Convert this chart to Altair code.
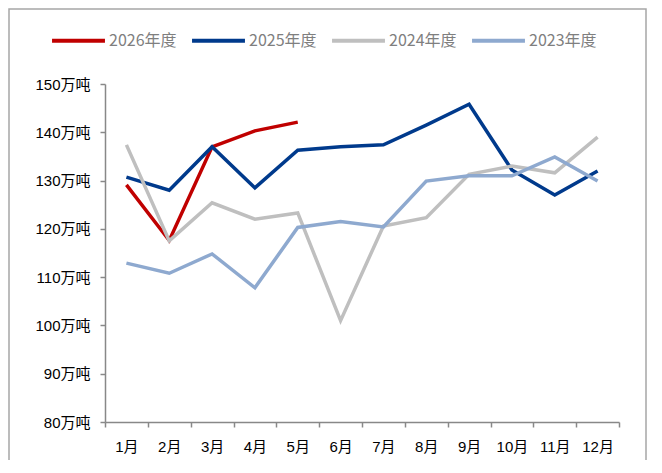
import pandas as pd
import altair as alt

months = ["1月", "2月", "3月", "4月", "5月", "6月", "7月", "8月", "9月", "10月", "11月", "12月"]
series = ["2026年度", "2025年度", "2024年度", "2023年度"]
colors = ["#C00000", "#003A8C", "#BFBFBF", "#8EA9CF"]

y2026 = [129.1, 117.6, 137.0, 140.3, 142.1]
y2025 = [130.7, 128.0, 137.0, 128.5, 136.3, 137.0, 137.4, 141.5, 145.8, 132.2, 127.0, 132.0]
y2024 = [137.4, 117.5, 125.4, 122.0, 123.3, 101.0, 120.6, 122.3, 131.3, 133.0, 131.6, 139.0]
y2023 = [112.9, 110.8, 114.8, 107.8, 120.3, 121.5, 120.4, 129.9, 131.0, 131.0, 134.9, 129.9]

rows = []
for name, vals in zip(series, [y2026, y2025, y2024, y2023]):
    for i, v in enumerate(vals):
        rows.append({"series": name, "month": months[i], "idx": i + 1, "value": v})
df = pd.DataFrame(rows)
df["order"] = df["series"].map({s: k for k, s in enumerate(series)})

FONT = "Liberation Sans, Noto Sans CJK SC"
LEG_FONT = "Noto Sans CJK SC"
W, H = 514, 338
band = W / 12

# frame around the whole figure
frame = alt.Chart(pd.DataFrame({"k": [0]})).mark_rect(
    filled=False, stroke="#a6a6a6", strokeWidth=1.5
).encode(
    x=alt.value(-96), x2=alt.value(541), y=alt.value(-75), y2=alt.value(420)
)

lines = alt.Chart(df).mark_line(strokeWidth=3.5).encode(
    x=alt.X(
        "idx:Q",
        scale=alt.Scale(domain=[0.5, 12.5], nice=False, zero=False),
        axis=alt.Axis(
            values=[i + 0.5 for i in range(13)],
            labelExpr="datum.value < 12 ? (datum.value + 0.5) + '月' : ''",
            labelOffset=band / 2,
            labelFlush=False,
            labelOverlap=False,
            labelPadding=12,
            labelFontSize=15,
            labelFont=FONT,
            labelColor="black",
            tickSize=5,
            grid=False,
            title=None,
        ),
    ),
    y=alt.Y(
        "value:Q",
        scale=alt.Scale(domain=[80, 150], nice=False, zero=False),
        axis=alt.Axis(
            values=list(range(80, 151, 10)),
            labelExpr="datum.value + '万吨'",
            labelFontSize=15,
            labelFont=FONT,
            labelColor="black",
            labelPadding=10,
            labelFlush=False,
            tickSize=5,
            grid=False,
            title=None,
        ),
    ),
    color=alt.Color(
        "series:N",
        sort=series,
        scale=alt.Scale(domain=series, range=colors),
        legend=alt.Legend(
            orient="none",
            legendX=-55,
            legendY=-72,
            direction="horizontal",
            symbolType="stroke",
            symbolStrokeWidth=4,
            symbolSize=2800,
            labelFontSize=16,
            labelFont=LEG_FONT,
            labelColor="#7f7f7f",
            labelOffset=2,
            columnPadding=7,
            title=None,
        ),
    ),
    order=alt.Order("order:Q", sort="descending"),
    detail="series:N",
)

chart = (
    (frame + lines)
    .properties(
        width=W,
        height=H,
        autosize=alt.AutoSizeParams(type="none"),
        padding={"left": 97, "top": 76, "right": 35, "bottom": 38},
    )
    .configure(background="white")
    .configure_view(stroke=None)
    .configure_axis(domainColor="#888", tickColor="#888", domainWidth=1.5, tickWidth=1.5)
)

chart.save("out.html", embed_options={"renderer": "svg", "actions": False})
